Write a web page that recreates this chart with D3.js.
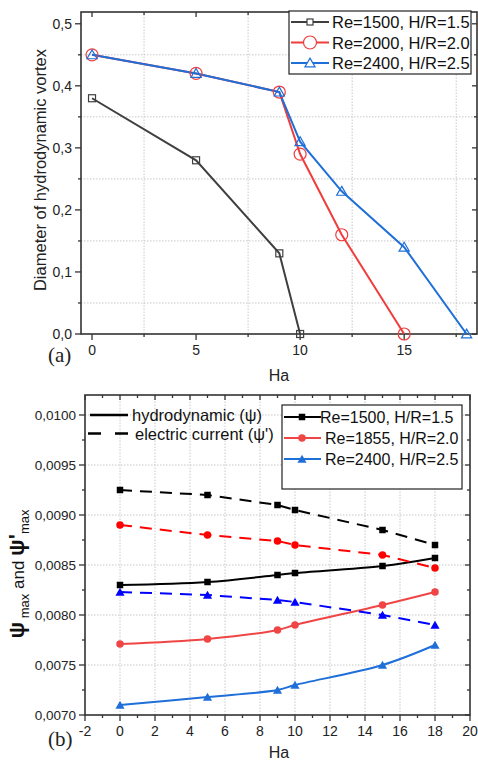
<!DOCTYPE html>
<html>
<head>
<meta charset="utf-8">
<script src="https://cdn.jsdelivr.net/npm/d3@7"></script>
<style>
  body { margin: 0; background: #fff; }
  text { font-family: "Liberation Sans", Arial, sans-serif; }
</style>
</head>
<body>
<script>
// ---- data, panel (a) ----
var haA = [0, 5, 9, 10, 12, 15, 18];
var dia1500 = [0.38, 0.28, 0.13, 0.0];        // Ha = 0,5,9,10
var dia2000 = [0.45, 0.42, 0.39, 0.29, 0.16, 0.0];   // Ha = 0..15
var dia2400 = [0.45, 0.42, 0.39, 0.31, 0.23, 0.14, 0.0];
var legendA = ['Re=1500, H/R=1.5', 'Re=2000, H/R=2.0', 'Re=2400, H/R=2.5'];
var yTicksA = [0, 0.1, 0.2, 0.3, 0.4, 0.5];
var xTicksA = [0, 5, 10, 15];

// ---- data, panel (b) ----
var haB = [0, 5, 9, 10, 15, 18];
var psi1500 = [0.00830, 0.00833, 0.00840, 0.00842, 0.00849, 0.00857];
var psiE1500 = [0.00925, 0.00920, 0.00910, 0.00905, 0.00885, 0.00870];
var psi1855 = [0.00771, 0.00776, 0.00785, 0.00790, 0.00810, 0.00823];
var psiE1855 = [0.00890, 0.00880, 0.00874, 0.00870, 0.00860, 0.00847];
var psi2400 = [0.00710, 0.00718, 0.00725, 0.00730, 0.00750, 0.00770];
var psiE2400 = [0.00823, 0.00820, 0.00815, 0.00813, 0.00800, 0.00790];
var legendB = ['Re=1500, H/R=1.5', 'Re=1855, H/R=2.0', 'Re=2400, H/R=2.5'];
var legendB2 = ['hydrodynamic (\u03C8)', "electric current (\u03C8')"];
var yTicksB = [0.0070, 0.0075, 0.0080, 0.0085, 0.0090, 0.0095, 0.0100];
var xTicksB = [-2, 0, 2, 4, 6, 8, 10, 12, 14, 16, 18, 20];

var W = 478, H = 762;
var svg = d3.select('body').append('svg').attr('width', W).attr('height', H);
var comma = f => (v => d3.format(f)(v).replace('.', ','));

function frame(g, x, y, o) {
	// grid
	g.selectAll('.gx').data(o.gridX).join('line')
		.attr('x1', d => x(d)).attr('x2', d => x(d)).attr('y1', y.range()[0]).attr('y2', y.range()[1])
		.attr('stroke', '#c8c8c8').attr('stroke-dasharray', '1.5,1.5').attr('stroke-width', 1);
	g.selectAll('.gy').data(o.gridY).join('line')
		.attr('y1', d => y(d)).attr('y2', d => y(d)).attr('x1', x.range()[0]).attr('x2', x.range()[1])
		.attr('stroke', '#c8c8c8').attr('stroke-dasharray', '1.5,1.5').attr('stroke-width', 1);

	var x0 = x.range()[0], x1 = x.range()[1], y0 = y.range()[0], y1 = y.range()[1];
	var tk = (sel, arr, len, horiz, at) => sel.selectAll(null).data(arr).join('line')
		.attr('x1', d => horiz ? x(d) : at).attr('x2', d => horiz ? x(d) : at + len)
		.attr('y1', d => horiz ? at : y(d)).attr('y2', d => horiz ? at + len : y(d))
		.attr('stroke', '#333').attr('stroke-width', 1.3);
	var ax = g.append('g');
	tk(ax, o.majX, 6, true, y0); tk(ax, o.minX, 3, true, y0);
	tk(ax, o.majX, 5, true, y1); tk(ax, o.minX, 3, true, y1);
	tk(ax, o.majY, -6, false, x0); tk(ax, o.minY, -3, false, x0);
	tk(ax, o.majY, -5, false, x1); tk(ax, o.minY, -3, false, x1);
	g.append('rect').attr('x', x0).attr('y', y1).attr('width', x1 - x0).attr('height', y0 - y1)
		.attr('fill', 'none').attr('stroke', '#333').attr('stroke-width', 1.6);

	g.selectAll('.tx').data(o.majX).join('text')
		.attr('x', d => x(d)).attr('y', y0 + 21).attr('text-anchor', 'middle')
		.attr('font-size', 14).attr('fill', '#222').text(o.fx);
	g.selectAll('.ty').data(o.majY).join('text')
		.attr('x', x0 - 9).attr('y', d => y(d) + 5).attr('text-anchor', 'end')
		.attr('font-size', o.fsY).attr('fill', '#222').text(o.fy);
}

function marker(g, type, cx, cy, size, fill, stroke) {
	if (type === 'square')
		g.append('rect').attr('x', cx - size / 2).attr('y', cy - size / 2).attr('width', size).attr('height', size)
			.attr('fill', fill).attr('stroke', stroke).attr('stroke-width', 1.2);
	else if (type === 'circle')
		g.append('circle').attr('cx', cx).attr('cy', cy).attr('r', size / 2)
			.attr('fill', fill).attr('stroke', stroke).attr('stroke-width', 1.2);
	else
		g.append('path').attr('d', d3.symbol(d3.symbolTriangle, size * size * 0.45)())
			.attr('transform', 'translate(' + cx + ',' + (cy + 1) + ')')
			.attr('fill', fill).attr('stroke', stroke).attr('stroke-width', 1.2);
}

// ================= panel (a) =================
var xa = d3.scaleLinear().domain([-0.53, 18.5]).range([81, 477]);
var ya = d3.scaleLinear().domain([0, 0.519]).range([334, 12]);
var ga = svg.append('g');
frame(ga, xa, ya, {
	gridX: [2.5, 7.5, 12.5, 17.5], gridY: [0.05, 0.15, 0.25, 0.35, 0.45],
	majX: xTicksA, minX: [2.5, 7.5, 12.5, 17.5],
	majY: yTicksA, minY: [0.05, 0.15, 0.25, 0.35, 0.45],
	fx: d => d, fy: comma('.1f'), fsY: 14
});

var seriesA = [
	{ v: dia1500, color: '#3f3f3f', m: 'square', s: 7, w: 2 },
	{ v: dia2000, color: '#f03c3c', m: 'circle', s: 12, w: 2 },
	{ v: dia2400, color: '#1f6fd8', m: 'triangle', s: 10, w: 2 }
];
var lineA = d3.line().x(d => xa(d[0])).y(d => ya(d[1]));
seriesA.forEach(s => {
	var pts = s.v.map((v, i) => [haA[i], v]);
	ga.append('path').attr('d', lineA(pts)).attr('fill', 'none').attr('stroke', s.color).attr('stroke-width', s.w);
});
seriesA.forEach(s => {
	s.v.forEach((v, i) => marker(ga, s.m, xa(haA[i]), ya(v), s.s, 'none', s.color));
});

// legend (a)
var la = ga.append('g');
la.append('rect').attr('x', 289).attr('y', 11).attr('width', 182).attr('height', 63)
	.attr('fill', '#fff').attr('stroke', '#222').attr('stroke-width', 1.2);
seriesA.forEach((s, i) => {
	var yy = 22 + i * 20.5;
	la.append('line').attr('x1', 291).attr('x2', 329).attr('y1', yy).attr('y2', yy)
		.attr('stroke', s.color).attr('stroke-width', 2);
	marker(la, s.m, 310, yy, s.m === 'square' ? 6 : (s.m === 'circle' ? 13 : 10), '#fff', s.color);
	la.append('text').attr('x', 332).attr('y', yy + 6).attr('font-size', 16.5).attr('fill', '#111').text(legendA[i]);
});

ga.append('text').attr('transform', 'translate(46,170) rotate(-90)').attr('text-anchor', 'middle')
	.attr('font-size', 16.5).attr('fill', '#222').text('Diameter of hydrodynamic vortex');
ga.append('text').attr('x', 279).attr('y', 381).attr('text-anchor', 'middle')
	.attr('font-size', 16).attr('fill', '#222').text('Ha');
ga.append('text').attr('x', 48).attr('y', 362).attr('font-size', 21)
	.style('font-family', '"Liberation Serif", "Times New Roman", serif').attr('fill', '#222').text('(a)');

// ================= panel (b) =================
var xb = d3.scaleLinear().domain([-2, 20]).range([85, 470]);
var yb = d3.scaleLinear().domain([0.0070, 0.0102]).range([715, 395]);
var gb = svg.append('g');
frame(gb, xb, yb, {
	gridX: xTicksB.slice(1, -1), gridY: yTicksB.slice(1),
	majX: xTicksB, minX: d3.range(-1, 20, 2),
	majY: yTicksB, minY: [0.00725, 0.00775, 0.00825, 0.00875, 0.00925, 0.00975],
	fx: d => d, fy: comma('.4f'), fsY: 13.5
});

var seriesB = [
	{ v: psi1500, color: '#000000', m: 'square', s: 6.5, dash: null },
	{ v: psiE1500, color: '#000000', m: 'square', s: 6.5, dash: '12,8' },
	{ v: psi1855, color: '#f04545', m: 'circle', s: 7.5, dash: null },
	{ v: psiE1855, color: '#ff0000', m: 'circle', s: 7.5, dash: '12,8' },
	{ v: psi2400, color: '#1f6fd8', m: 'triangle', s: 9, dash: null },
	{ v: psiE2400, color: '#0000ff', m: 'triangle', s: 9, dash: '12,8' }
];
var lineB = d3.line().x(d => xb(d[0])).y(d => yb(d[1])).curve(d3.curveCatmullRom);
var lineBd = d3.line().x(d => xb(d[0])).y(d => yb(d[1]));
seriesB.forEach(s => {
	var pts = s.v.map((v, i) => [haB[i], v]);
	gb.append('path').attr('d', (s.dash ? lineBd : lineB)(pts)).attr('fill', 'none').attr('stroke', s.color)
		.attr('stroke-width', 2).attr('stroke-dasharray', s.dash);
});
seriesB.forEach(s => {
	s.v.forEach((v, i) => marker(gb, s.m, xb(haB[i]), yb(v), s.s, s.color, 'none'));
});

// legend (b), line-style part
var lb2 = gb.append('g');
legendB2.forEach((t, i) => {
	var yy = 415 + i * 18.5;
	lb2.append('line').attr('x1', i ? 88 : 90).attr('x2', 128).attr('y1', yy).attr('y2', yy)
		.attr('stroke', '#000').attr('stroke-width', 2.5).attr('stroke-dasharray', i ? '13,14' : null);
	lb2.append('text').attr('x', i ? 135 : 132).attr('y', yy + 6).attr('font-size', 16.5).attr('fill', '#111').text(t);
});

// legend (b), series part
var lb = gb.append('g');
lb.append('rect').attr('x', 282).attr('y', 405).attr('width', 180).attr('height', 84)
	.attr('fill', '#fff').attr('stroke', '#222').attr('stroke-width', 1.2);
[seriesB[0], seriesB[2], seriesB[4]].forEach((s, i) => {
	var yy = 417 + i * 21;
	lb.append('line').attr('x1', 284).attr('x2', 321).attr('y1', yy).attr('y2', yy)
		.attr('stroke', s.color).attr('stroke-width', 2.2);
	marker(lb, s.m, 302, yy, s.s, s.color, 'none');
	lb.append('text').attr('x', i ? 325 : 320).attr('y', yy + 6).attr('font-size', 16).attr('fill', '#111').text(legendB[i]);
});

var yl = gb.append('text').attr('transform', 'translate(24,574) rotate(-90)').attr('text-anchor', 'middle')
	.attr('fill', '#111').attr('font-size', 17);
yl.append('tspan').attr('font-weight', 'bold').attr('font-size', 22).text('\u03C8');
yl.append('tspan').attr('font-size', 13).attr('dy', 5).text(' max');
yl.append('tspan').attr('dy', -5).text(' and ');
yl.append('tspan').attr('font-weight', 'bold').attr('font-size', 22).text("\u03C8'");
yl.append('tspan').attr('font-size', 13).attr('dy', 5).text('max');

gb.append('text').attr('x', 279).attr('y', 758).attr('text-anchor', 'middle')
	.attr('font-size', 16).attr('fill', '#222').text('Ha');
gb.append('text').attr('x', 48).attr('y', 746).attr('font-size', 21)
	.style('font-family', '"Liberation Serif", "Times New Roman", serif').attr('fill', '#222').text('(b)');
</script>
</body>
</html>
